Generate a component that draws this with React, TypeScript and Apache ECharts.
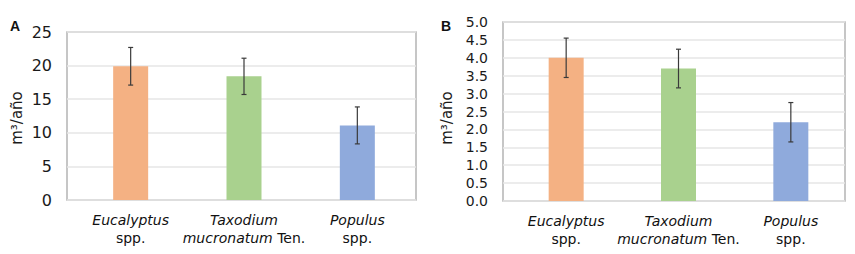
import React, { useEffect, useRef } from "react";
import * as echarts from "echarts";

const catLine1 = ["Eucalyptus", "Taxodium", "Populus"];
const catLine2Italic = ["", "mucronatum", ""];
const catLine2Normal = ["spp.", " Ten.", "spp."];
const barColors = ["#F4B183", "#A9D18E", "#8FAADC"];

const valuesA = [19.9, 18.4, 11.1];
const errorsA = [2.8, 2.7, 2.75];
const valuesB = [4.0, 3.7, 2.2];
const errorsB = [0.55, 0.54, 0.55];

const yTicksA = { min: 0, max: 25, interval: 5 };
const yTicksB = { min: 0, max: 5, interval: 0.5 };

const axisTitle = "m³/año";
const panelLetters = ["A", "B"];

const FONT = "DejaVu Sans";

function labelFormatter(_v: string, idx: number) {
  const l2 = (catLine2Italic[idx] ? `{i|${catLine2Italic[idx]}}` : "") + `{n|${catLine2Normal[idx]}}`;
  return `{i|${catLine1[idx]}}\n${l2}`;
}

export default function App() {
  const ref = useRef<HTMLDivElement>(null);
  useEffect(() => {
    if (!ref.current) return;
    const chart = echarts.init(ref.current, undefined, { renderer: "svg" });
    const cats = catLine1.map((c, i) => c + " " + catLine2Italic[i] + catLine2Normal[i]);

    const frames = [
      { left: 67, top: 32, width: 349, height: 168 },
      { left: 503, top: 22, width: 342, height: 179 },
    ];
    const barGrids = [
      { left: 74, top: 32, width: 340, height: 168 },
      { left: 510, top: 22, width: 337, height: 179 },
    ];
    const ticks = [yTicksA, yTicksB];
    const vals = [valuesA, valuesB];
    const errs = [errorsA, errorsB];

    const grid: any[] = [];
    const xAxis: any[] = [];
    const yAxis: any[] = [];
    const series: any[] = [];

    for (let p = 0; p < 2; p++) {
      grid.push({ ...frames[p], show: true, borderColor: "#B4B4B4", borderWidth: 1.5, backgroundColor: "transparent" });
      grid.push({ ...barGrids[p], show: false });
      const fi = p * 2;
      const bi = p * 2 + 1;
      xAxis.push({ type: "category", gridIndex: fi, data: cats, show: false });
      xAxis.push({
        type: "category",
        gridIndex: bi,
        data: cats,
        axisLine: { show: false },
        axisTick: { show: false },
        axisLabel: {
          interval: 0,
          hideOverlap: false,
          margin: 11,
          formatter: labelFormatter,
          lineHeight: 18,
          color: "#111",
          rich: {
            i: { fontStyle: "italic", fontFamily: FONT, fontSize: 14, color: "#111", lineHeight: 18 },
            n: { fontFamily: FONT, fontSize: 14, color: "#111", lineHeight: 18 },
          },
        },
      });
      yAxis.push({
        type: "value",
        gridIndex: fi,
        min: ticks[p].min,
        max: ticks[p].max,
        interval: ticks[p].interval,
        axisLine: { show: false },
        axisTick: { show: false },
        splitLine: { lineStyle: { color: "#E6E6E6", width: 1.5 } },
        axisLabel: {
          margin: 15,
          fontFamily: FONT,
          fontSize: p === 0 ? 16 : 14,
          color: "#1a1a1a",
          formatter: (v: number) => (p === 0 ? String(v) : v.toFixed(1)),
        },
      });
      yAxis.push({
        type: "value",
        gridIndex: bi,
        min: ticks[p].min,
        max: ticks[p].max,
        show: false,
      });
      series.push({
        type: "bar",
        xAxisIndex: bi,
        yAxisIndex: bi,
        barWidth: 35,
        data: vals[p].map((v, i) => ({ value: v, itemStyle: { color: barColors[i] } })),
      });
      series.push({
        type: "custom",
        xAxisIndex: bi,
        yAxisIndex: bi,
        z: 5,
        data: vals[p].map((v, i) => [i, v - errs[p][i], v + errs[p][i]]),
        renderItem: (params: any, api: any) => {
          const lo = api.coord([api.value(0), api.value(1)]);
          const hi = api.coord([api.value(0), api.value(2)]);
          const hw = 2.5;
          const style = { stroke: "#3a3a3a", lineWidth: 1.2 };
          return {
            type: "group",
            children: [
              { type: "line", shape: { x1: lo[0], y1: lo[1], x2: hi[0], y2: hi[1] }, style },
              { type: "line", shape: { x1: hi[0] - hw, y1: hi[1], x2: hi[0] + hw, y2: hi[1] }, style },
              { type: "line", shape: { x1: lo[0] - hw, y1: lo[1], x2: lo[0] + hw, y2: lo[1] }, style },
            ],
          };
        },
      });
    }

    const graphic: any[] = [
      { type: "text", x: 15, y: 26, style: { text: panelLetters[0], font: "bold 14px Liberation Sans", fill: "#111", align: "center", verticalAlign: "middle" } },
      { type: "text", x: 446, y: 26, style: { text: panelLetters[1], font: "bold 14px Liberation Sans", fill: "#111", align: "center", verticalAlign: "middle" } },
      { type: "text", x: 17, y: 118, rotation: Math.PI / 2, style: { text: axisTitle, font: `15px '${FONT}'`, fill: "#1a1a1a", align: "center", verticalAlign: "middle" } },
      { type: "text", x: 447, y: 118, rotation: Math.PI / 2, style: { text: axisTitle, font: `15px '${FONT}'`, fill: "#1a1a1a", align: "center", verticalAlign: "middle" } },
    ];

    chart.setOption({
      animation: false,
      backgroundColor: "#ffffff",
      grid,
      xAxis,
      yAxis,
      series,
      graphic,
    });
    return () => chart.dispose();
  }, []);
  return <div ref={ref} style={{ position: "fixed", left: 0, top: 0, width: 855, height: 254 }} />;
}
